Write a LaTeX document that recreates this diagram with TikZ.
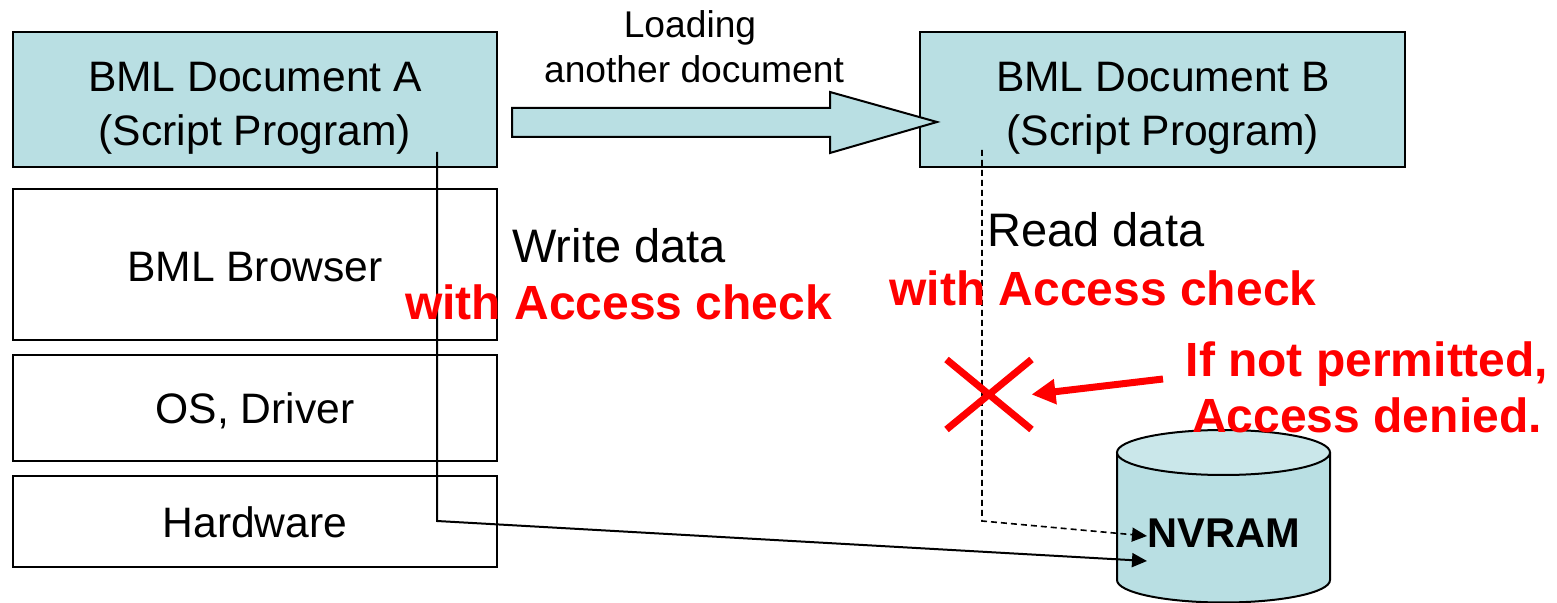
\documentclass[tikz,border=0pt]{standalone}
\usepackage{fontspec}
\setmainfont{Liberation Sans}
\usetikzlibrary{arrows.meta,shapes.misc}
\definecolor{boxfill}{HTML}{B9DFE3}
\definecolor{captop}{HTML}{CAE7EA}
\definecolor{alert}{HTML}{FF0000}

\begin{document}
\begin{tikzpicture}[x=0.5pt,y=-0.5pt,
  layer/.style={draw=black,line width=1pt,rectangle,inner sep=0pt,minimum width=242pt},
  docbox/.style={layer,fill=boxfill,minimum height=67.5pt},
  lbl/.style={inner sep=0pt,anchor=base,font=\fontsize{21.3}{25}\selectfont},
  small/.style={inner sep=0pt,anchor=base,font=\fontsize{18.6}{22}\selectfont},
  big/.style={inner sep=0pt,anchor=base west,font=\fontsize{23.5}{28}\selectfont},
  warn/.style={inner sep=0pt,anchor=base,text=alert,font=\fontsize{24}{28}\selectfont\bfseries},
  flow/.style={draw=black,line width=1pt,-{Triangle[length=7.5pt,width=7pt]}},
  flowdash/.style={flow,dash pattern=on 3pt off 2pt,line width=0.8pt}]

\useasboundingbox (0,0) rectangle (1557,603);

% software stack on the left
\node[docbox] (docA) at (255,99.5) {};
\node[layer,minimum height=75.5pt] (browser) at (255,264.5) {};
\node[layer,minimum height=53pt] (os) at (255,408) {};
\node[layer,minimum height=45.5pt] (hw) at (255,521.5) {};

\node[lbl] (docAt1) at (255,92) {BML Document A};
\node[lbl] (docAt2) at (255,146) {(Script Program)};
\node[lbl] (browsert) at (255,282) {BML Browser};
\node[lbl] (ost) at (255,424) {OS, Driver};
\node[lbl] (hwt) at (255,538) {Hardware};

% second document
\node[docbox,minimum width=242.5pt] (docB) at (1162.5,99.5) {};
\node[lbl] (docBt1) at (1163,92) {BML Document B};
\node[lbl] (docBt2) at (1163,146) {(Script Program)};

% loading arrow
\draw[line width=1pt,fill=boxfill] (512,108) -- (830,108) -- (830,92) -- (937,122)
  -- (830,153) -- (830,137) -- (512,137) -- cycle;
\node[small] (load1) at (690,38) {Loading};
\node[small] (load2) at (694,83) {another document};

% NVRAM cylinder
\path[fill=boxfill,draw=black,line width=1pt] (1117,452.5) -- (1117,580)
  arc[start angle=180,end angle=0,x radius=106.5,y radius=22.5] -- (1330,452.5);
\draw[line width=1pt,fill=captop] (1223.5,452.5) ellipse[x radius=106.5,y radius=22.5];
\node[inner sep=0pt,anchor=base,font=\fontsize{20.8}{25}\selectfont\bfseries] (nvram) at (1223.5,547) {NVRAM};

% write path
\coordinate (wrStart) at (437,152);
\coordinate (wrBend) at (437,521);
\coordinate (wrEnd) at (1147,561);
\draw[flow] (wrStart) -- (wrBend) -- (wrEnd);
\node[big] (writet) at (512,263) {Write data};
\node[warn] (chkA) at (618.5,320) {with Access check};

% read path
\coordinate (rdStart) at (982,150);
\coordinate (rdBend) at (982,521);
\coordinate (rdEnd) at (1147,536);
\draw[flowdash] (rdStart) -- (rdBend) -- (rdEnd);
\node[big] (readt) at (987,247) {Read data};
\node[warn] (chkB) at (1103,306) {with Access check};

% denial
\node[cross out,draw=alert,line width=3.5pt,inner sep=0pt,minimum width=39pt,minimum height=31.5pt] (cross) at (989,394.5) {};
\node[warn] (deny1) at (1367,377) {If not permitted,};
\node[warn] (deny2) at (1367,433) {Access denied.};
\coordinate (denyFrom) at (1163,379);
\draw[draw=alert,line width=3.5pt,-{Triangle[length=12pt,width=12pt]}] (denyFrom) -- (cross.east);

\end{tikzpicture}
\end{document}
